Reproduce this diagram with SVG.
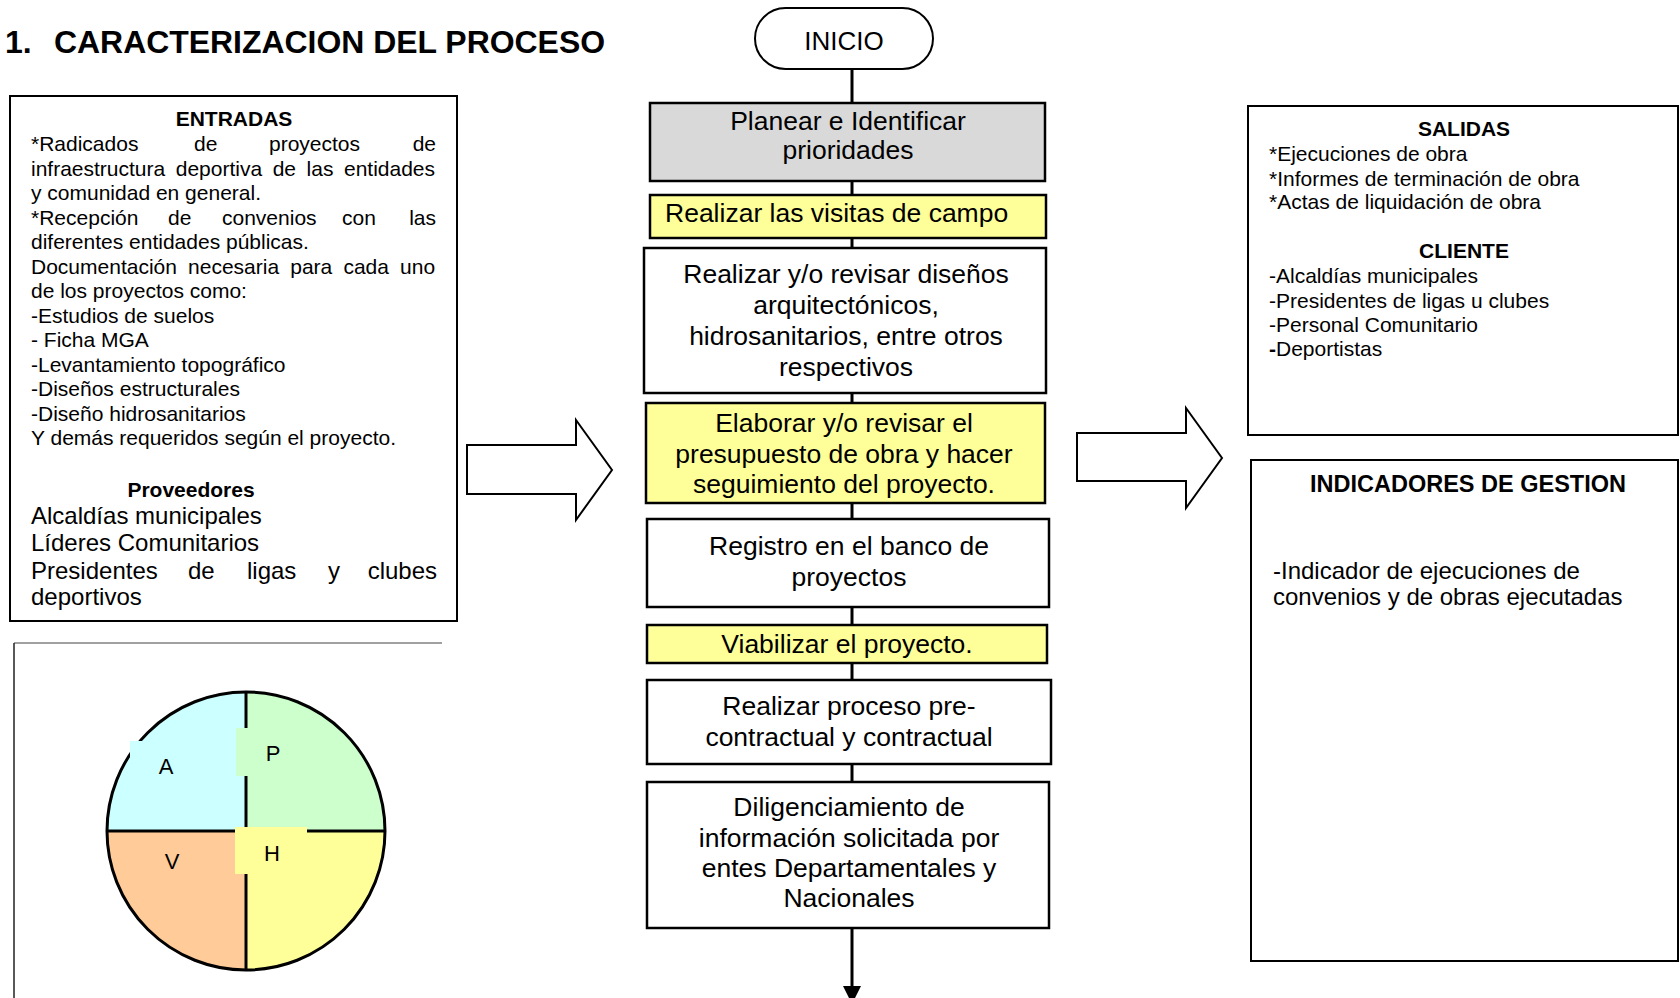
<svg xmlns="http://www.w3.org/2000/svg" width="1680" height="998" viewBox="0 0 1680 998">
<defs>
<style>
text{font-family:"Liberation Sans",Arial,sans-serif;fill:#000}
.b{font-weight:bold}
.t21{font-size:21px}
.t24{font-size:24px}
.fc{font-size:26.5px;text-anchor:middle}
.box{stroke:#000;stroke-width:2.5}
.panel{fill:#fff;stroke:#000;stroke-width:2}
.conn{stroke:#000;stroke-width:3;fill:none}
.yel{fill:#FFFF99}
.wht{fill:#fff}
.gry{fill:#D9D9D9}
.big{fill:#fff;stroke:#000;stroke-width:2;stroke-linejoin:miter}
.q{font-size:22px;text-anchor:middle}
</style>
</defs>
<rect width="1680" height="998" fill="#fff"/>

<g id="title">
<text class="b" x="5" y="53" font-size="32">1.</text>
<text class="b" x="54" y="53" font-size="32" textLength="551" lengthAdjust="spacingAndGlyphs">CARACTERIZACION DEL PROCESO</text>
</g>

<g id="entradas">
<rect class="panel" x="10" y="96" width="447" height="525"/>
<text class="b t21" x="234" y="126" text-anchor="middle">ENTRADAS</text>
<g class="t21">
<text x="31" y="151">*Radicados</text>
<text x="194" y="151">de</text>
<text x="269" y="151">proyectos</text>
<text x="436" y="151" text-anchor="end">de</text>
<text x="31" y="175.5" word-spacing="4.7">infraestructura deportiva de las entidades</text>
<text x="31" y="200">y comunidad en general.</text>
<text x="31" y="224.5">*Recepción</text>
<text x="168" y="224.5">de</text>
<text x="222" y="224.5">convenios</text>
<text x="342" y="224.5">con</text>
<text x="436" y="224.5" text-anchor="end">las</text>
<text x="31" y="249">diferentes entidades públicas.</text>
<text x="31" y="273.5" word-spacing="5.3">Documentación necesaria para cada uno</text>
<text x="31" y="298">de los proyectos como:</text>
<text x="31" y="322.5">-Estudios de suelos</text>
<text x="31" y="347">- Ficha MGA</text>
<text x="31" y="371.5">-Levantamiento topográfico</text>
<text x="31" y="396">-Diseños estructurales</text>
<text x="31" y="420.5">-Diseño hidrosanitarios</text>
<text x="31" y="445">Y demás requeridos según el proyecto.</text>
</g>
<text class="b t21" x="191" y="497" text-anchor="middle">Proveedores</text>
<g class="t24">
<text x="31" y="524">Alcaldías municipales</text>
<text x="31" y="551">Líderes Comunitarios</text>
<text x="31" y="579">Presidentes</text>
<text x="188" y="579">de</text>
<text x="247" y="579">ligas</text>
<text x="328" y="579">y</text>
<text x="437" y="579" text-anchor="end">clubes</text>
<text x="31" y="605">deportivos</text>
</g>
</g>

<g id="phva">
<line x1="14" y1="643" x2="442" y2="643" stroke="#808080" stroke-width="1.5"/>
<line x1="14" y1="643" x2="14" y2="998" stroke="#222" stroke-width="1.5"/>
<path d="M246,831 L107,831 A139,139 0 0 1 246,692 Z" fill="#CCFFFF"/>
<path d="M246,831 L246,692 A139,139 0 0 1 385,831 Z" fill="#CCFFCC"/>
<path d="M246,831 L385,831 A139,139 0 0 1 246,970 Z" fill="#FFFF99"/>
<path d="M246,831 L246,970 A139,139 0 0 1 107,831 Z" fill="#FFCC99"/>
<circle cx="246" cy="831" r="139" fill="none" stroke="#000" stroke-width="3"/>
<line x1="107" y1="831" x2="385" y2="831" stroke="#000" stroke-width="3"/>
<line x1="246" y1="692" x2="246" y2="970" stroke="#000" stroke-width="3"/>
<rect x="130" y="741" width="64" height="46" fill="#CCFFFF"/>
<rect x="236" y="728" width="62" height="48" fill="#CCFFCC"/>
<rect x="235" y="827" width="72" height="47" fill="#FFFF99"/>
<text class="q" x="166" y="774">A</text>
<text class="q" x="273" y="761">P</text>
<text class="q" x="272" y="861">H</text>
<text class="q" x="172" y="869">V</text>
</g>

<g id="arrow-in">
<polygon class="big" points="467,445 576,445 576,420 612,470 576,520 576,494 467,494"/>
</g>
<g id="arrow-out">
<polygon class="big" points="1077,433 1186,433 1186,408 1222,458 1186,508 1186,481 1077,481"/>
</g>

<g id="connectors">
<line class="conn" x1="852" y1="69" x2="852" y2="103"/>
<line class="conn" x1="852" y1="181" x2="852" y2="195"/>
<line class="conn" x1="852" y1="238" x2="852" y2="248"/>
<line class="conn" x1="852" y1="393" x2="852" y2="403"/>
<line class="conn" x1="852" y1="503" x2="852" y2="519"/>
<line class="conn" x1="852" y1="607" x2="852" y2="625"/>
<line class="conn" x1="852" y1="663" x2="852" y2="680"/>
<line class="conn" x1="852" y1="764" x2="852" y2="782"/>
<line class="conn" x1="852" y1="928" x2="852" y2="988"/>
<polygon points="843,986 861,986 852,1004" fill="#000"/>
</g>

<g id="inicio">
<rect x="755" y="8" width="178" height="61" rx="30.5" fill="#fff" stroke="#000" stroke-width="2"/>
<text x="844" y="50" font-size="26" text-anchor="middle">INICIO</text>
</g>

<g id="planear">
<rect class="box gry" x="650" y="103" width="395" height="78"/>
<text class="fc" x="848" y="130">Planear e Identificar</text>
<text class="fc" x="848" y="159">prioridades</text>
</g>

<g id="visitas">
<rect class="box yel" x="650" y="195" width="396" height="43"/>
<text x="665" y="222" font-size="26.5">Realizar las visitas de campo</text>
</g>

<g id="disenos">
<rect class="box wht" x="644" y="248" width="402" height="145"/>
<text class="fc" x="846" y="283">Realizar y/o revisar diseños</text>
<text class="fc" x="846" y="314">arquitectónicos,</text>
<text class="fc" x="846" y="345">hidrosanitarios, entre otros</text>
<text class="fc" x="846" y="376">respectivos</text>
</g>

<g id="presupuesto">
<rect class="box yel" x="646" y="403" width="399" height="100"/>
<text class="fc" x="844" y="432">Elaborar y/o revisar el</text>
<text class="fc" x="844" y="463">presupuesto de obra y hacer</text>
<text class="fc" x="844" y="493">seguimiento del proyecto.</text>
</g>

<g id="registro">
<rect class="box wht" x="647" y="519" width="402" height="88"/>
<text class="fc" x="849" y="555">Registro en el banco de</text>
<text class="fc" x="849" y="586">proyectos</text>
</g>

<g id="viabilizar">
<rect class="box yel" x="647" y="625" width="400" height="38"/>
<text class="fc" x="847" y="653">Viabilizar el proyecto.</text>
</g>

<g id="contractual">
<rect class="box wht" x="647" y="680" width="404" height="84"/>
<text class="fc" x="849" y="715">Realizar proceso pre-</text>
<text class="fc" x="849" y="746">contractual y contractual</text>
</g>

<g id="diligenciamiento">
<rect class="box wht" x="647" y="782" width="402" height="146"/>
<text class="fc" x="849" y="816">Diligenciamiento de</text>
<text class="fc" x="849" y="847">información solicitada por</text>
<text class="fc" x="849" y="877">entes Departamentales y</text>
<text class="fc" x="849" y="907">Nacionales</text>
</g>

<g id="salidas">
<rect class="panel" x="1248" y="106" width="430" height="329"/>
<text class="b t21" x="1464" y="136" text-anchor="middle">SALIDAS</text>
<g class="t21">
<text x="1269" y="161">*Ejecuciones de obra</text>
<text x="1269" y="185.5">*Informes de terminación de obra</text>
<text x="1269" y="209">*Actas de liquidación de obra</text>
</g>
<text class="b t21" x="1464" y="258" text-anchor="middle">CLIENTE</text>
<g class="t21">
<text x="1269" y="283">-Alcaldías municipales</text>
<text x="1269" y="308">-Presidentes de ligas u clubes</text>
<text x="1269" y="332">-Personal Comunitario</text>
<text x="1269" y="356"><tspan class="b">-</tspan>Deportistas</text>
</g>
</g>

<g id="indicadores">
<rect class="panel" x="1251" y="460" width="427" height="501"/>
<text class="b" x="1468" y="492" font-size="23.5" text-anchor="middle">INDICADORES DE GESTION</text>
<text class="t24" x="1273" y="579">-Indicador de ejecuciones de</text>
<text class="t24" x="1273" y="605">convenios y de obras ejecutadas</text>
</g>
</svg>
